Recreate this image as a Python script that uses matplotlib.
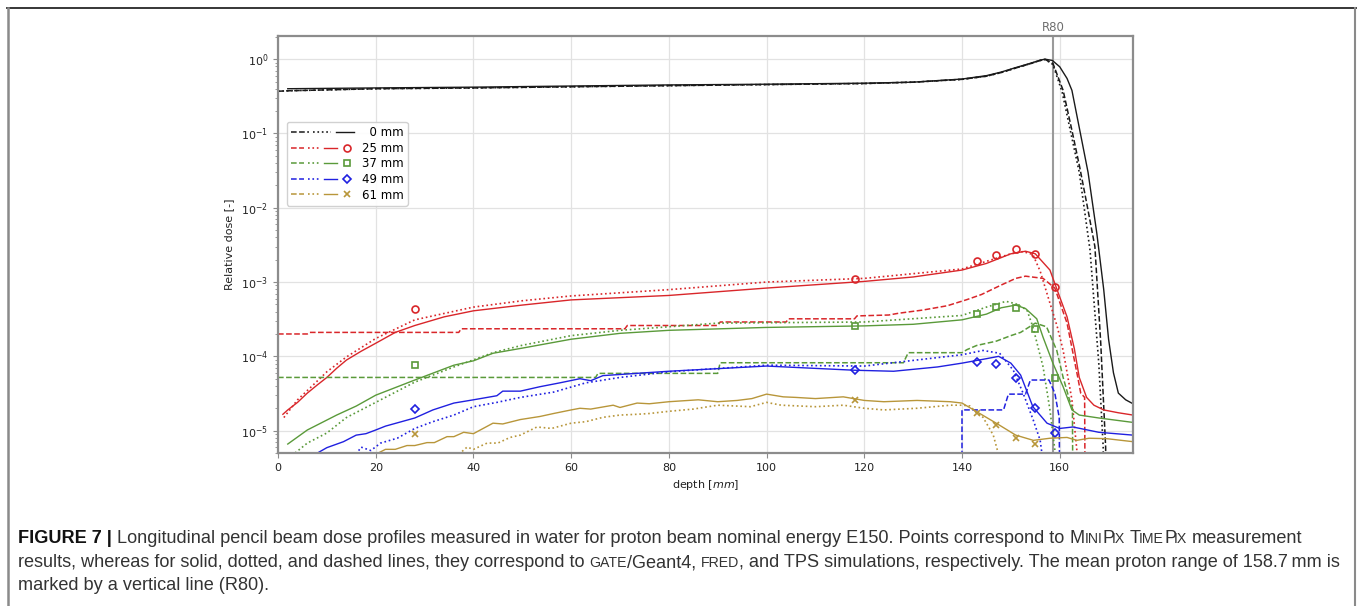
import matplotlib
matplotlib.use("Agg")
import matplotlib.pyplot as plt
import matplotlib.transforms as mtransforms
from matplotlib.lines import Line2D
from matplotlib.legend_handler import HandlerTuple

# ---- dose profiles, depth in mm ----
# 0 mm (on axis)
d0_solid_x = [2, 20, 40, 60, 80, 100, 120, 130, 140, 145, 148, 151, 154, 156, 157,
              158.5, 160, 161.5, 162.5, 164, 165.8, 167.6, 169, 170, 171, 172, 173.5, 175]
d0_solid_y = [0.40, 0.41, 0.42, 0.435, 0.45, 0.46, 0.475, 0.49, 0.54, 0.60, 0.67, 0.77, 0.88,
              0.97, 1.0, 0.96, 0.79, 0.55, 0.38, 0.12, 0.03, 4.5e-3, 8e-4, 1.7e-4, 6e-5,
              3.2e-5, 2.6e-5, 2.3e-5]
d0_dotted_x = [0, 2, 20, 40, 60, 80, 100, 120, 130, 140, 145, 148, 151, 154, 156, 157,
               158.6, 160.5, 162.3, 164, 166.2, 168, 168.9, 169]
d0_dotted_y = [0.37, 0.375, 0.40, 0.41, 0.425, 0.44, 0.455, 0.47, 0.49, 0.535, 0.59, 0.66,
               0.76, 0.87, 0.96, 0.99, 0.85, 0.36, 0.10, 0.03, 2.7e-3, 8e-5, 6e-6, 1e-6]
d0_dashed_x = [0, 2, 20, 40, 60, 80, 100, 120, 130, 140, 145, 148, 151, 154, 156, 157,
               158.6, 160.7, 162.5, 164.1, 165.7, 167.2, 168.4, 169.4, 169.5]
d0_dashed_y = [0.37, 0.375, 0.40, 0.41, 0.425, 0.44, 0.455, 0.47, 0.49, 0.535, 0.59, 0.66,
               0.76, 0.87, 0.96, 0.99, 0.88, 0.38, 0.11, 0.035, 0.01, 3e-3, 1.5e-4, 6e-6, 1e-6]

# 25 mm
d25_solid_x = [1, 2, 4, 6, 8, 10, 12, 14, 17, 20, 24, 28, 34, 40, 50, 60, 80, 100, 120, 130,
               140, 145, 150, 153, 155, 158, 160, 161.5, 163, 164, 165.5, 167, 169, 172, 175]
d25_solid_y = [1.66e-5, 1.9e-5, 2.4e-5, 3.2e-5, 4.1e-5, 5.2e-5, 6.9e-5, 8.9e-5, 1.17e-4, 1.5e-4,
               2.1e-4, 2.6e-4, 3.4e-4, 4.1e-4, 4.9e-4, 5.75e-4, 6.6e-4, 8.3e-4, 1.02e-3, 1.17e-3,
               1.45e-3, 1.78e-3, 2.4e-3, 2.6e-3, 2.4e-3, 1.45e-3, 6.3e-4, 3.4e-4, 1.26e-4, 5.2e-5,
               2.8e-5, 2.2e-5, 1.9e-5, 1.74e-5, 1.62e-5]
d25_dotted_x = [1.2, 4, 7, 10, 14, 20, 28, 40, 50, 60, 80, 100, 120, 140, 145, 150, 152.5,
                154.5, 156, 158, 159.5, 160.7, 162.5, 163.5, 163.8]
d25_dotted_y = [1.5e-5, 2.6e-5, 4.0e-5, 6.2e-5, 9.8e-5, 1.74e-4, 3.1e-4, 4.6e-4, 5.6e-4, 6.5e-4,
                7.9e-4, 1.0e-3, 1.12e-3, 1.5e-3, 1.9e-3, 2.4e-3, 2.57e-3, 2.35e-3, 1.4e-3,
                5.2e-4, 2.5e-4, 1.2e-4, 2.6e-5, 5.5e-6, 1e-6]
d25_dashed_x = [0, 6, 6.5, 37, 37.5, 71, 71.5, 90, 90.5, 104, 104.5, 118, 118.5, 125, 127, 132,
                137, 141, 144, 148, 151, 153, 156.6, 159, 161.5, 163.7, 164.3, 165.1, 165.2]
d25_dashed_y = [2.0e-4, 2.0e-4, 2.1e-4, 2.1e-4, 2.35e-4, 2.35e-4, 2.6e-4, 2.6e-4, 2.9e-4, 2.9e-4,
                3.2e-4, 3.2e-4, 3.5e-4, 3.6e-4, 3.8e-4, 4.2e-4, 4.8e-4, 5.8e-4, 6.8e-4, 9.1e-4,
                1.12e-3, 1.2e-3, 1.12e-3, 8.3e-4, 2.8e-4, 5.2e-5, 3.2e-5, 2.8e-5, 1e-6]

# 37 mm
d37_solid_x = [2, 6, 12, 16, 20, 28, 36, 40, 44, 50, 60, 70, 80, 100, 120, 130, 140, 145, 148,
               151, 153, 155.3, 156.6, 158.6, 160.7, 162.5, 164, 168, 175]
d37_solid_y = [6.6e-6, 1.02e-5, 1.62e-5, 2.14e-5, 3.0e-5, 4.8e-5, 7.6e-5, 8.7e-5, 1.1e-4, 1.29e-4,
               1.7e-4, 2.04e-4, 2.24e-4, 2.45e-4, 2.57e-4, 2.7e-4, 3.1e-4, 3.7e-4, 4.5e-4, 4.9e-4,
               4.4e-4, 3.2e-4, 1.8e-4, 8.1e-5, 3.9e-5, 1.9e-5, 1.62e-5, 1.48e-5, 1.29e-5]
d37_dotted_x = [3.5, 6, 10, 14, 20, 28, 36, 44, 50, 60, 70, 80, 90, 120, 140, 145, 149, 151,
                153.3, 154.5, 156.6, 158, 159, 159.3]
d37_dotted_y = [5e-6, 6.8e-6, 9.3e-6, 1.5e-5, 2.4e-5, 4.5e-5, 7.2e-5, 1.12e-4, 1.41e-4, 1.9e-4,
                2.24e-4, 2.5e-4, 2.8e-4, 2.9e-4, 3.55e-4, 4.6e-4, 5.5e-4, 5.1e-4, 4.2e-4, 2.5e-4,
                7.2e-5, 1.9e-5, 5.5e-6, 1e-6]
d37_dashed_x = [0, 65, 65.5, 90, 90.5, 128, 129, 140, 141, 143, 147, 150, 152, 155, 157.3, 159.4,
                160.7, 162, 162.6, 162.7]
d37_dashed_y = [5.2e-5, 5.2e-5, 5.9e-5, 5.9e-5, 8.2e-5, 8.2e-5, 1.12e-4, 1.12e-4, 1.23e-4, 1.4e-4,
                1.6e-4, 1.9e-4, 2.1e-4, 2.8e-4, 2.5e-4, 1.2e-4, 5.2e-5, 2.6e-5, 2.0e-5, 1e-6]

# 49 mm
d49_solid_x = [7.6, 10, 13.4, 16, 18, 20, 22, 28, 31.7, 36, 40, 44.8, 46, 49.6, 53.6, 57.7, 61.8,
               64, 66.5, 73.4, 80, 100, 118, 126, 135, 140, 145, 147.5, 150, 152, 154.5, 157.4,
               160, 162.7, 168, 175]
d49_solid_y = [4.8e-6, 5.9e-6, 7.1e-6, 8.7e-6, 9.1e-6, 1.02e-5, 1.15e-5, 1.48e-5, 1.9e-5, 2.35e-5,
               2.6e-5, 2.95e-5, 3.4e-5, 3.4e-5, 3.9e-5, 4.4e-5, 5.0e-5, 4.7e-5, 5.5e-5, 5.9e-5,
               6.3e-5, 7.4e-5, 6.5e-5, 6.3e-5, 7.2e-5, 8.1e-5, 9.3e-5, 1.0e-4, 8.1e-5, 5.6e-5,
               2.1e-5, 1.26e-5, 1.07e-5, 1.12e-5, 9.5e-6, 8.7e-6]
d49_dotted_x = [16, 17, 19, 21, 24.4, 28, 31.7, 36, 40, 44.8, 49.6, 56.4, 63, 70, 80, 100, 120,
                140, 144.3, 147.7, 150.5, 152.5, 154.6, 156, 156.8]
d49_dotted_y = [4.8e-6, 6e-6, 5.4e-6, 6.8e-6, 7.9e-6, 1.07e-5, 1.32e-5, 1.62e-5, 2.1e-5, 2.4e-5,
                2.8e-5, 3.3e-5, 4.4e-5, 5.2e-5, 6.2e-5, 7.6e-5, 7.4e-5, 1.05e-4, 1.2e-4, 1.1e-4,
                6.5e-5, 3.2e-5, 1.38e-5, 7.4e-6, 3e-6]
d49_dashed_x = [140, 140, 148.5, 149.5, 153, 154, 157.8, 159, 159.9, 160]
d49_dashed_y = [1e-6, 1.9e-5, 1.9e-5, 3.1e-5, 3.1e-5, 4.8e-5, 4.8e-5, 3.2e-5, 1.5e-5, 1e-6]

# 61 mm
d61_solid_x = [20, 22, 24, 26.4, 28, 30.5, 32, 34.6, 36, 38, 40, 44, 46, 49.6, 53.6, 56.4, 60,
               61.8, 64, 68.6, 70, 73.5, 76, 80, 86, 90, 94, 97, 100, 103.4, 106, 110, 115.7,
               120, 124, 130.8, 137.6, 140, 143, 147, 151, 154.6, 158, 161.5, 163.5, 166,
               169.6, 175]
d61_solid_y = [4.8e-6, 5.6e-6, 5.6e-6, 6.3e-6, 6.3e-6, 6.9e-6, 6.9e-6, 8.3e-6, 8.3e-6, 9.5e-6,
               9.1e-6, 1.26e-5, 1.23e-5, 1.41e-5, 1.55e-5, 1.7e-5, 1.9e-5, 2.0e-5, 1.95e-5,
               2.2e-5, 2.05e-5, 2.35e-5, 2.3e-5, 2.45e-5, 2.6e-5, 2.45e-5, 2.55e-5, 2.7e-5,
               3.1e-5, 2.85e-5, 2.8e-5, 2.7e-5, 2.85e-5, 2.55e-5, 2.45e-5, 2.55e-5, 2.45e-5,
               2.35e-5, 1.8e-5, 1.26e-5, 8.7e-6, 7.4e-6, 7.9e-6, 8.1e-6, 7.4e-6, 7.9e-6,
               7.8e-6, 7.1e-6]
d61_dotted_x = [37, 38.7, 40, 42.8, 45, 47.5, 49.6, 53, 56, 60, 63, 66.5, 70, 73.5, 76, 80, 85,
                90, 96.7, 100, 103, 110, 115.7, 120, 124, 130.8, 137.6, 140, 141.6, 143, 144.3,
                145, 146.4, 147.4, 147.6]
d61_dotted_y = [4.8e-6, 6.0e-6, 5.6e-6, 6.8e-6, 6.8e-6, 8.1e-6, 8.7e-6, 1.12e-5, 1.07e-5, 1.26e-5,
                1.32e-5, 1.51e-5, 1.62e-5, 1.66e-5, 1.7e-5, 1.82e-5, 1.95e-5, 2.2e-5, 2.1e-5,
                2.4e-5, 2.2e-5, 2.1e-5, 2.2e-5, 2.0e-5, 1.9e-5, 2.0e-5, 2.2e-5, 2.2e-5, 2.15e-5,
                1.74e-5, 1.51e-5, 1.26e-5, 8.7e-6, 5.0e-6, 3e-6]

# MiniPIX Timepix measurements
meas_x = [28, 118, 143, 147, 151, 155, 159]
meas_25 = [4.4e-4, 1.1e-3, 1.9e-3, 2.3e-3, 2.8e-3, 2.4e-3, 8.6e-4]
meas_37 = [7.7e-5, 2.55e-4, 3.75e-4, 4.55e-4, 4.45e-4, 2.35e-4, 5.1e-5]
meas_49 = [1.95e-5, 6.6e-5, 8.4e-5, 8.0e-5, 5.1e-5, 2.0e-5, 9.4e-6]
meas_61 = [8.9e-6, 2.6e-5, 1.72e-5, 1.18e-5, 7.9e-6, 6.6e-6]

r80 = 158.7
offaxis = ["0 mm", "25 mm", "37 mm", "49 mm", "61 mm"]
colors = ["#1a1a1a", "#d9262a", "#5a9a3a", "#2020e0", "#b8963a"]
markers = [None, "o", "s", "D", "x"]

W, H = 1357, 606
fig = plt.figure(figsize=(W / 100, H / 100), dpi=100)
ax = fig.add_axes([278 / W, 1 - 453 / H, 855 / W, 417 / H])

curves = [
    (d0_dashed_x, d0_dashed_y, d0_dotted_x, d0_dotted_y, d0_solid_x, d0_solid_y, None, None),
    (d25_dashed_x, d25_dashed_y, d25_dotted_x, d25_dotted_y, d25_solid_x, d25_solid_y,
     meas_x, meas_25),
    (d37_dashed_x, d37_dashed_y, d37_dotted_x, d37_dotted_y, d37_solid_x, d37_solid_y,
     meas_x, meas_37),
    (d49_dashed_x, d49_dashed_y, d49_dotted_x, d49_dotted_y, d49_solid_x, d49_solid_y,
     meas_x, meas_49),
    (None, None, d61_dotted_x, d61_dotted_y, d61_solid_x, d61_solid_y,
     meas_x[:len(meas_61)], meas_61),
]

handles = []
for (dax, day, dox, doy, sx, sy, mx, my), c, m in zip(curves, colors, markers):
    if dax is not None:
        ax.plot(dax, day, color=c, ls="--", lw=1.1)
    ax.plot(dox, doy, color=c, ls=":", lw=1.2)
    ax.plot(sx, sy, color=c, ls="-", lw=1.0)
    parts = [Line2D([], [], color=c, ls="--", lw=1.1),
             Line2D([], [], color=c, ls=":", lw=1.2),
             Line2D([], [], color=c, ls="-", lw=1.0)]
    if mx is not None:
        ms = 4.5 if m in ("x", "D") else 5
        ax.plot(mx, my, ls="none", marker=m, ms=ms, mew=1.2, mfc="none", mec=c)
        parts.append(Line2D([], [], ls="none", marker=m, ms=ms, mew=1.2, mfc="none", mec=c))
    handles.append(tuple(parts))

ax.axvline(r80, color="#9a9a9a", lw=1.5, zorder=1)
trans = mtransforms.blended_transform_factory(ax.transData, ax.transAxes)
ax.text(r80, 1.004, "R80", transform=trans, ha="center", va="bottom",
        fontsize=8.5, color="#6e6e6e")

ax.set_yscale("log")
ax.set_xlim(0, 175)
ax.set_ylim(5e-6, 2.05)
ax.set_xticks([0, 20, 40, 60, 80, 100, 120, 140, 160])
ax.grid(True, which="major", color="#e2e2e2", lw=0.9)
ax.set_axisbelow(True)
for s in ax.spines.values():
    s.set_color("#8c8c8c")
    s.set_linewidth(1.6)
ax.tick_params(which="both", colors="#8c8c8c", labelcolor="#222222", labelsize=8)
ax.set_xlabel("depth [$mm$]", fontsize=8, color="#222222")
ax.set_ylabel("Relative dose [-]", fontsize=8, color="#222222", labelpad=5)

labels = ["\u2007" + offaxis[0]] + offaxis[1:]
leg = ax.legend(handles, labels, handler_map={tuple: HandlerTuple(ndivide=None, pad=0.35)},
                loc="upper left", bbox_to_anchor=(9 / 855, 1 - 86 / 417), borderaxespad=0,
                fontsize=8.5, handlelength=5.3, handletextpad=0.7, labelspacing=0.22,
                borderpad=0.35, framealpha=0.9)

# frame around the panel
fig.add_artist(Line2D([7 / W, 1356 / W], [1 - 8 / H, 1 - 8 / H], transform=fig.transFigure,
                      color="#262626", lw=1.3))
fig.add_artist(Line2D([7.5 / W, 7.5 / W], [0, 1 - 8 / H], transform=fig.transFigure,
                      color="#8a8a8a", lw=1.8))
fig.add_artist(Line2D([1355 / W, 1355 / W], [0, 1 - 8 / H], transform=fig.transFigure,
                      color="#8a8a8a", lw=1.5))

# caption, drawn run by run so small caps can be faked with a smaller size
cap_family = ["Liberation Sans", "DejaVu Sans"]
cap_size = 13.05
small = 0.78
renderer = fig.canvas.get_renderer()


def advance(s, size, weight):
    t1 = fig.text(0, 0, "." + s + ".", fontsize=size, family=cap_family, weight=weight)
    t2 = fig.text(0, 0, "..", fontsize=size, family=cap_family, weight=weight)
    w = t1.get_window_extent(renderer).width - t2.get_window_extent(renderer).width
    t1.remove()
    t2.remove()
    return w


def draw_runs(x, baseline, runs):
    for s, sc, bold in runs:
        size = cap_size * (small if sc else 1.0)
        weight = "bold" if bold else "normal"
        color = "#111111" if bold else "#333333"
        body = s.strip(" ")
        lead = len(s) - len(s.lstrip(" "))
        trail = len(s) - len(s.rstrip(" "))
        x += lead * advance(" ", size, weight)
        if body:
            fig.text(x / W, 1 - baseline / H, body, fontsize=size, family=cap_family,
                     weight=weight, color=color, va="baseline", ha="left")
            x += advance(body, size, weight)
        x += trail * advance(" ", size, weight)


line1 = [("FIGURE 7 |", False, True),
         (" Longitudinal pencil beam dose profiles measured in water for proton beam nominal "
          "energy E150. Points correspond to ", False, False),
         ("M", False, False), ("INI", True, False), ("P", False, False), ("IX", True, False),
         (" T", False, False), ("IME", True, False), ("P", False, False), ("IX", True, False),
         (" measurement", False, False)]
line2 = [("results, whereas for solid, dotted, and dashed lines, they correspond to ", False, False),
         ("GATE", True, False), ("/Geant4, ", False, False), ("FRED", True, False),
         (", and TPS simulations, respectively. The mean proton range of 158.7\u2009mm is",
          False, False)]
line3 = [("marked by a vertical line (R80).", False, False)]

draw_runs(18, 543, line1)
draw_runs(18, 567, line2)
draw_runs(18, 590, line3)

fig.savefig("out.png", dpi=100)
